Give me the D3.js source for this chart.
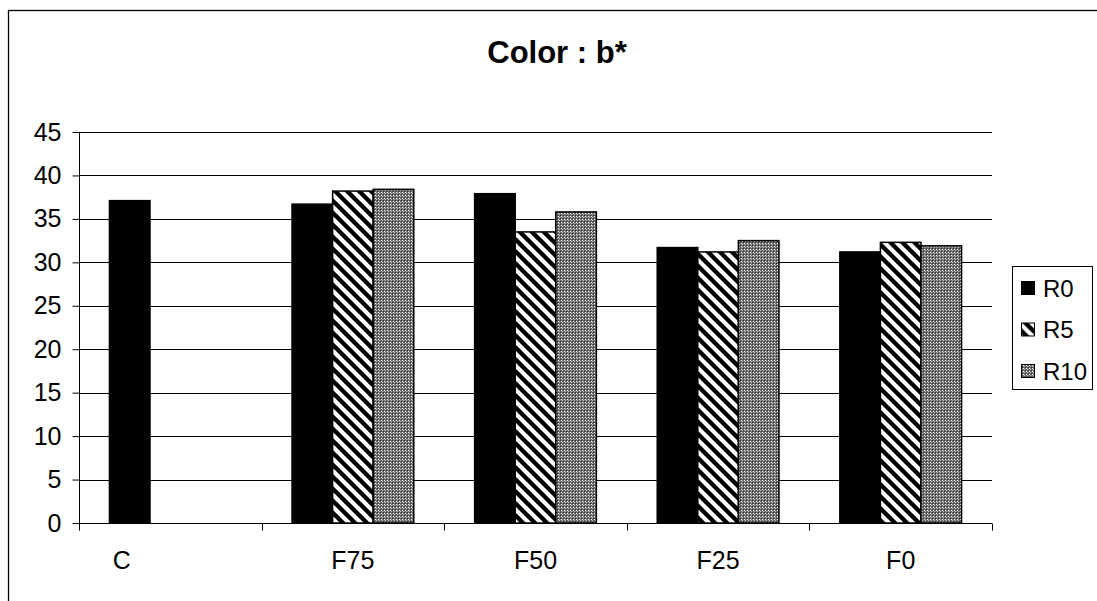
<!DOCTYPE html>
<html>
<head>
<meta charset="utf-8">
<script src="https://cdn.jsdelivr.net/npm/d3@7"></script>
<style>
  html, body { margin: 0; padding: 0; background: #fff; }
  svg { display: block; }
  text { font-family: "Liberation Sans", Arial, sans-serif; fill: #000; }
</style>
</head>
<body>
<svg id="chart" width="1097" height="601"></svg>
<script>
// ---- data ----
const categories = ["C", "F75", "F50", "F25", "F0"];
const categoryLabels = ["C              ", "F75", "F50", "F25", "F0"];
const seriesNames = ["R0", "R5", "R10"];
const R0 = [37.1, 36.7, 37.9, 31.7, 31.2];
const R5 = [null, 38.2, 33.5, 31.2, 32.3];
const R10 = [null, 38.4, 35.8, 32.5, 31.9];
const yTicks = [0, 5, 10, 15, 20, 25, 30, 35, 40, 45];
const title = "Color : b*";

const seriesValues = { R0, R5, R10 };

const svg = d3.select("#chart");
const defs = svg.append("defs");

// patterns
const stripe = defs.append("pattern").attr("id", "pat-r5")
  .attr("patternUnits", "userSpaceOnUse").attr("width", 12).attr("height", 12);
stripe.append("rect").attr("width", 12).attr("height", 12).attr("fill", "#fff");
stripe.append("path")
  .attr("d", "M-3,-3 L15,15 M-15,-3 L3,15 M9,-3 L27,15")
  .attr("stroke", "#000").attr("stroke-width", 4.4);

const dots = defs.append("pattern").attr("id", "pat-r10")
  .attr("patternUnits", "userSpaceOnUse").attr("width", 3).attr("height", 3);
dots.append("rect").attr("width", 3).attr("height", 3).attr("fill", "#6a6a6a");
dots.append("rect").attr("x", 0).attr("y", 0).attr("width", 1).attr("height", 1).attr("fill", "#fff");
dots.append("rect").attr("x", 1).attr("y", 1).attr("width", 1).attr("height", 1).attr("fill", "#c0c0c0");
dots.append("rect").attr("x", 2).attr("y", 2).attr("width", 1).attr("height", 1).attr("fill", "#333");

const fills = { R0: "#000", R5: "url(#pat-r5)", R10: "url(#pat-r10)" };

// outer chart border
svg.append("rect").attr("x", 8.5).attr("y", 10.5).attr("width", 1100).attr("height", 600)
  .attr("fill", "none").attr("stroke", "#000").attr("stroke-width", 1.3);

// title
svg.append("text").attr("x", 557).attr("y", 63).attr("text-anchor", "middle")
  .attr("font-size", 31).attr("font-weight", "bold").text(title);

// scales
const x = d3.scaleBand().domain(categories).range([79, 992]).paddingInner(0).paddingOuter(0);
const xs = d3.scaleBand().domain(seriesNames).range([0, x.bandwidth()]).paddingInner(0).paddingOuter(0.75);
const y = d3.scaleLinear().domain([0, 45]).range([523, 132]);

// gridlines
svg.append("g").selectAll("line").data(yTicks.filter(t => t > 0)).join("line")
  .attr("x1", 79).attr("x2", 992)
  .attr("y1", d => Math.round(y(d)) + 0.5).attr("y2", d => Math.round(y(d)) + 0.5)
  .attr("stroke", "#000").attr("stroke-width", 1);

// bars
const barData = [];
categories.forEach((c, i) => {
  seriesNames.forEach(s => {
    const v = seriesValues[s][i];
    if (v != null) barData.push({ c, s, v });
  });
});
svg.append("g").selectAll("rect").data(barData).join("rect")
  .attr("x", d => x(d.c) + xs(d.s))
  .attr("y", d => y(d.v))
  .attr("width", xs.bandwidth())
  .attr("height", d => y(0) - y(d.v))
  .attr("fill", d => fills[d.s])
  .attr("stroke", "#000").attr("stroke-width", 1.5);

// y axis
const yAxis = d3.axisLeft(y).tickValues(yTicks).tickSize(7).tickPadding(11).tickFormat(d3.format("d"));
const gy = svg.append("g").attr("transform", "translate(79.5,0)").call(yAxis);
gy.select(".domain").attr("stroke", "#000").attr("d", `M0,${y(45)}V${y(0)}`);
gy.selectAll(".tick line").attr("stroke", "#000");
gy.selectAll(".tick text").attr("font-size", 25).attr("font-family", "Liberation Sans, Arial, sans-serif").attr("fill", "#000");

// x axis line
const xAxis = d3.axisBottom(x).tickSize(0).tickFormat((d, i) => categoryLabels[i]);
const gx = svg.append("g").attr("transform", `translate(0,${Math.round(y(0)) + 0.5})`).call(xAxis);
gx.select(".domain").attr("stroke", "#000").attr("d", `M79,0H992`);
gx.selectAll(".tick text").attr("font-size", 25).attr("font-family", "Liberation Sans, Arial, sans-serif")
  .attr("fill", "#000").attr("y", 45).attr("dy", 0).attr("xml:space", "preserve").style("white-space", "pre");
// category boundary tick marks
const bounds = categories.map(c => x(c)).concat([x.range()[1]]);
gx.append("g").selectAll("line").data(bounds).join("line")
  .attr("x1", d => Math.round(d) + 0.5).attr("x2", d => Math.round(d) + 0.5)
  .attr("y1", 0).attr("y2", 7).attr("stroke", "#000");

// legend
const lg = svg.append("g");
lg.append("rect").attr("x", 1012.5).attr("y", 266.5).attr("width", 80).attr("height", 123)
  .attr("fill", "#fff").attr("stroke", "#000").attr("stroke-width", 1);
const ly = d3.scalePoint().domain(seriesNames).range([288, 371]);
const items = lg.selectAll("g.item").data(seriesNames).join("g").attr("class", "item")
  .attr("transform", d => `translate(0,${ly(d)})`);
items.append("rect").attr("x", 1021.5).attr("y", -6.5).attr("width", 13).attr("height", 13)
  .attr("fill", d => fills[d]).attr("stroke", "#000").attr("stroke-width", 1);
items.append("text").attr("x", 1043).attr("y", 0).attr("dy", "0.36em").attr("font-size", 24).text(d => d);
</script>
</body>
</html>
